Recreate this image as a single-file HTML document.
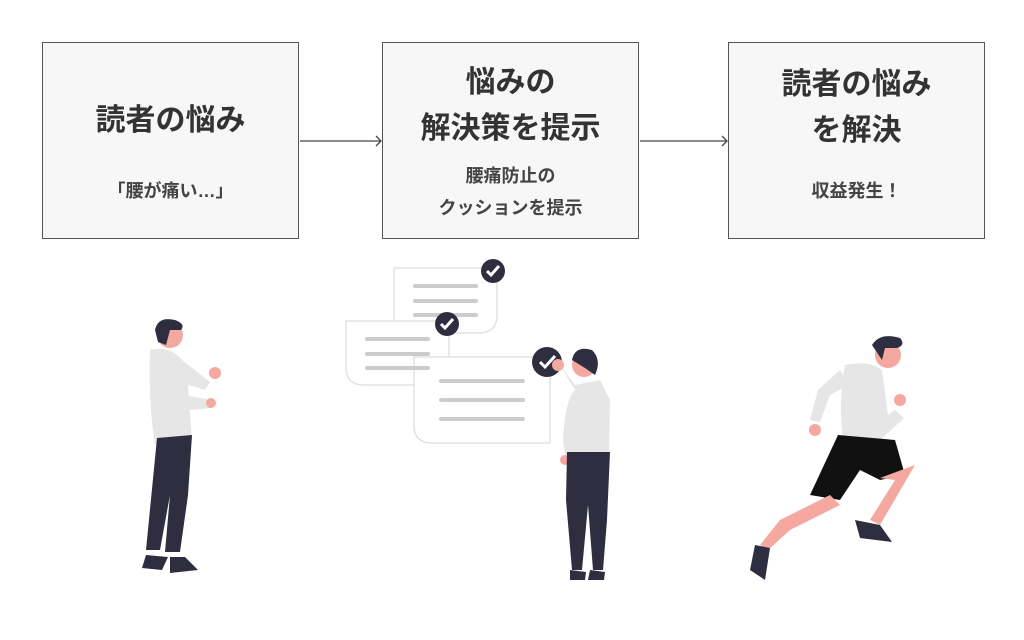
<!DOCTYPE html>
<html><head><meta charset="utf-8"><style>
body{margin:0;width:1024px;height:640px;background:#fff;position:relative;overflow:hidden;font-family:"Liberation Sans","Noto Sans CJK JP",sans-serif;color:#333}
.box{position:absolute;top:42px;width:257px;height:197px;background:#f7f7f7;border:1px solid #555;box-sizing:border-box;text-align:center}
.t{position:absolute;left:0;right:0;font-weight:bold;font-size:30px;line-height:46px;color:#333}
.s{position:absolute;left:0;right:0;font-weight:bold;font-size:18px;line-height:32px;color:#444}
svg{position:absolute;left:0;top:0}
</style></head><body>
<div class="box" style="left:42px"><div class="t" style="top:55px">読者の悩み</div><div class="s" style="top:132px">「腰が痛い…」</div></div>
<div class="box" style="left:382px"><div class="t" style="top:17px">悩みの<br>解決策を提示</div><div class="s" style="top:117px">腰痛防止の<br>クッションを提示</div></div>
<div class="box" style="left:728px"><div class="t" style="top:19px">読者の悩み<br>を解決</div><div class="s" style="top:132px">収益発生！</div></div>
<svg width="1024" height="640">
<g stroke="#444" stroke-width="1.3" fill="none">
<line x1="300" y1="141" x2="381" y2="141"/><polyline points="376,136 381,141 376,146"/>
<line x1="640" y1="141" x2="727" y2="141"/><polyline points="722,136 727,141 722,146"/>
</g>
<!-- cards -->
<g fill="#fff" stroke="#ddd" stroke-width="1.2">
<path d="M394,268 H497 V315 Q497,333 479,333 H394 Z"/>
<path d="M346,321 H449 V385 H364 Q346,385 346,367 Z"/>
<path d="M414,357 H550 V443 H432 Q414,443 414,425 Z"/>
</g>
<g stroke="#ccc" stroke-width="4" stroke-linecap="round">
<line x1="415" y1="286" x2="476" y2="286"/><line x1="415" y1="301" x2="476" y2="301"/><line x1="415" y1="315" x2="476" y2="315"/>
<line x1="367" y1="339" x2="428" y2="339"/><line x1="367" y1="354" x2="428" y2="354"/><line x1="367" y1="368" x2="428" y2="368"/>
<line x1="441" y1="381" x2="523" y2="381"/><line x1="441" y1="400" x2="523" y2="400"/><line x1="441" y1="419" x2="523" y2="419"/>
</g>
<g fill="#2f2e41"><circle cx="493" cy="271" r="12"/><circle cx="447" cy="324" r="12"/><circle cx="547" cy="362" r="15"/></g>
<g stroke="#fff" stroke-width="3" fill="none"><polyline points="487,271 491,275 499,266"/><polyline points="441,324 445,328 453,319"/><polyline points="540,362 545,367 555,356"/></g>
<!-- person 1 -->
<g>
<circle cx="170" cy="335" r="13" fill="#f5a8a0"/><path d="M155,330 Q158,316 175,320 Q186,324 181,330 L170,330 L166,345 L158,342 Z" fill="#2f2e41"/>
<path d="M150,350 Q170,345 182,360 L210,382 L205,390 L188,385 L192,440 L155,445 Q148,400 150,350 Z" fill="#e6e6e6"/>
<path d="M185,395 L210,400 L212,408 L188,410 Z" fill="#e6e6e6"/>
<circle cx="215" cy="373" r="6" fill="#f5a8a0"/><circle cx="211" cy="403" r="5" fill="#f5a8a0"/>
<path d="M157,438 L192,435 L188,495 L180,552 L165,552 L170,495 L160,550 L146,550 Z" fill="#2f2e41"/>
<path d="M146,555 L168,557 L162,570 L142,568 Z M170,557 L185,557 L198,570 L170,573 Z" fill="#2f2e41"/>
</g>
<!-- person 2 -->
<g>
<circle cx="584" cy="365" r="12" fill="#f5a8a0"/><path d="M572,360 Q575,345 592,350 Q602,360 595,375 L585,368 Z" fill="#2f2e41"/>
<circle cx="558" cy="365" r="6" fill="#f5a8a0"/>
<path d="M560,365 L575,385 L600,380 L610,400 L609,455 L575,455 L565,455 L563,440 Q565,400 575,390 Z" fill="#e6e6e6"/>
<circle cx="565" cy="460" r="5" fill="#f5a8a0"/>
<path d="M567,452 L610,452 L607,520 L603,570 L593,570 L588,505 L582,570 L572,570 L566,500 Z" fill="#2f2e41"/>
<path d="M570,570 L586,572 L585,580 L570,580 Z M590,570 L605,572 L604,580 L588,580 Z" fill="#2f2e41"/>
</g>
<!-- person 3 runner -->
<g>
<circle cx="888" cy="355" r="13" fill="#f5a8a0"/><path d="M872,345 Q880,332 900,338 Q906,345 897,348 L885,348 L882,360 Z" fill="#2f2e41"/>
<path d="M845,365 Q870,360 882,370 L888,415 L895,410 L904,418 L880,440 L843,440 Q838,400 845,365 Z" fill="#e6e6e6"/>
<path d="M840,370 L818,390 L810,420 L820,422 L830,395 L848,385 Z" fill="#e6e6e6"/>
<circle cx="815" cy="430" r="6" fill="#f5a8a0"/><circle cx="900" cy="400" r="6" fill="#f5a8a0"/>
<path d="M838,435 L895,440 L905,475 L880,480 L860,470 L840,500 L810,495 Z" fill="#111"/>
<path d="M880,478 L915,465 L880,525 L870,520 L895,480 Z" fill="#f5a8a0"/>
<path d="M830,495 L780,520 L760,545 L768,550 L790,530 L840,505 Z" fill="#f5a8a0"/>
<path d="M855,520 L880,525 L892,542 L860,538 Z M755,545 L770,548 L765,580 L750,570 Z" fill="#2f2e41"/>
</g>
</svg>
</body></html>
